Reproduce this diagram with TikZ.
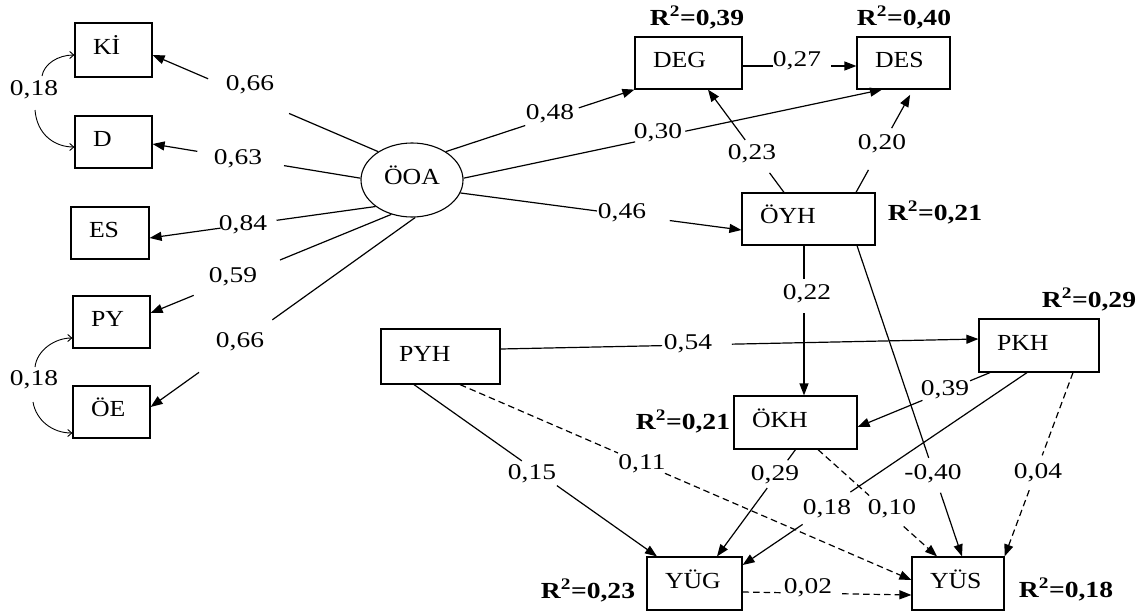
\documentclass[tikz,border=0pt]{standalone}
\usepackage{fontspec}
\setmainfont{Liberation Serif}
\newfontfamily\numfont{Liberation Serif}[FakeStretch=1.22]
\newfontfamily\boxfont{Liberation Serif}[FakeStretch=1.12]
\newfontfamily\rsqfont{Liberation Serif}[FakeStretch=1.2]
\usetikzlibrary{arrows.meta,shapes.geometric}

% split connector: #1 style, #2 from, #3 to, #4/#5 gap positions, #6 id
\newcommand\semedge[6]{%
  \path #2 -- #3 coordinate[pos=#4] (#6a) coordinate[pos=#5] (#6b);
  \draw[#1] #2 -- (#6a);
  \draw[#1,tip] (#6b) -- #3;
}
\newcommand\rsqtext[1]{R\textsuperscript{2}=#1}

\begin{document}
\begin{tikzpicture}[x=1pt,y=-1pt,
  bx/.style={draw, line width=1.2pt, rectangle, inner xsep=18pt, inner ysep=2pt,
    align=left, text height=16pt, text depth=7pt, font=\boxfont\fontsize{23}{27}\selectfont},
  lat/.style={draw, ellipse, line width=1.1pt, minimum width=102pt, minimum height=74pt,
    inner sep=0pt, text height=16pt, text depth=7pt, font=\boxfont\fontsize{23}{27}\selectfont},
  lbl/.style={inner sep=0pt, yshift=1.5pt, text height=15.5pt, text depth=0pt, font=\numfont\fontsize{22.5}{27}\selectfont},
  rsq/.style={inner sep=0pt, text height=15pt, text depth=0pt, font=\rsqfont\bfseries\fontsize{23}{27}\selectfont},
  conn/.style={line width=1.2pt},
  dconn/.style={line width=1.2pt, dash pattern=on 6.5pt off 4pt},
  tip/.style={-{Triangle[length=12pt,width=9pt]}},
  cov/.style={line width=0.9pt, -{Straight Barb[length=4pt,width=7pt]}},
  ]
\useasboundingbox (0,0) rectangle (1141,613);

% indicator boxes
\node[bx, minimum width=77pt, minimum height=54pt, text width=41pt] (ki) at (113.5,50) {Kİ};
\node[bx, minimum width=77pt, minimum height=52pt, text width=41pt] (d) at (113.5,142) {D};
\node[bx, minimum width=78pt, minimum height=52pt, text width=42pt] (es) at (110,233) {ES};
\node[bx, minimum width=77pt, minimum height=52pt, text width=41pt] (py) at (111.5,322) {PY};
\node[bx, minimum width=77pt, minimum height=52pt, text width=41pt] (oe) at (111.5,412) {ÖE};

% latent
\node[lat] (ooa) at (412,180) {ÖOA};

% structural boxes
\node[bx, minimum width=107pt, minimum height=52pt, text width=71pt] (deg) at (688.5,63) {DEG};
\node[bx, minimum width=93pt, minimum height=52pt, text width=57pt] (des) at (903.5,63) {DES};
\node[bx, minimum width=133pt, minimum height=52pt, text width=97pt] (oyh) at (808.5,219) {ÖYH};
\node[bx, minimum width=119pt, minimum height=55pt, text width=83pt] (pyh) at (440.5,356.5) {PYH};
\node[bx, minimum width=120pt, minimum height=53pt, text width=84pt] (pkh) at (1039,345.5) {PKH};
\node[bx, minimum width=123pt, minimum height=53pt, text width=87pt] (okh) at (795.5,422.5) {ÖKH};
\node[bx, minimum width=95pt, minimum height=53pt, text width=59pt] (yug) at (694.5,583.5) {YÜG};
\node[bx, minimum width=92pt, minimum height=53pt, text width=56pt] (yus) at (958,583.5) {YÜS};

% R squared
\node[rsq] (r1) at (697,18) {\rsqtext{0,39}};
\node[rsq] (r2) at (904,18) {\rsqtext{0,40}};
\node[rsq] (r3) at (935,213) {\rsqtext{0,21}};
\node[rsq] (r4) at (1089,300) {\rsqtext{0,29}};
\node[rsq] (r5) at (683,422) {\rsqtext{0,21}};
\node[rsq] (r6) at (588,591) {\rsqtext{0,23}};
\node[rsq] (r7) at (1066,590) {\rsqtext{0,18}};

% measurement paths
\semedge{conn}{(ooa.140)}{([yshift=-5pt]ki.east)}{0.395}{0.754}{m1}
\semedge{conn}{(ooa.178)}{([yshift=-2pt]d.east)}{0.368}{0.785}{m2}
\semedge{conn}{(ooa.216)}{([yshift=-5pt]es.east)}{0.438}{0.686}{m3}
\semedge{conn}{(ooa.239)}{([yshift=9pt]py.east)}{0.4625}{0.821}{m4}
\semedge{conn}{(ooa.275)}{([yshift=5pt]oe.east)}{0.54}{0.817}{m5}
\node[lbl] (lm1) at (250,84) {0,66};
\node[lbl] (lm2) at (238,158) {0,63};
\node[lbl] (lm3) at (243,224) {0,84};
\node[lbl] (lm4) at (233,276) {0,59};
\node[lbl] (lm5) at (240,341) {0,66};

% covariances
\coordinate (c1) at (42,76);
\coordinate (c2) at (35,110);
\coordinate (c3) at (35,367);
\coordinate (c4) at (33,402);
\draw[cov] (c1) .. controls (44,64) and (58,55) .. ([yshift=-5pt]ki.west);
\draw[cov] (c2) .. controls (37,135) and (55,147) .. ([yshift=-5pt]d.west);
\draw[cov] (c3) .. controls (37,350) and (55,338) .. ([yshift=-16pt]py.west);
\draw[cov] (c4) .. controls (36,420) and (52,433) .. ([yshift=-21pt]oe.west);
\node[lbl] (lc1) at (34,89) {0,18};
\node[lbl] (lc2) at (34,379) {0,18};

% structural paths
\semedge{conn}{(ooa.40)}{(deg.south west)}{0.421}{0.705}{s1}
\semedge{conn}{(ooa.2)}{([xshift=-21.5pt]des.south)}{0.41}{0.53}{s2}
\semedge{conn}{(ooa.-15)}{([yshift=-11pt]oyh.west)}{0.486}{0.745}{s3}
\semedge{conn}{([yshift=-3pt]deg.east)}{([yshift=-3pt]des.west)}{0.27}{0.78}{s4}
\semedge{conn}{([xshift=-24.5pt]oyh.north)}{([xshift=19.5pt]deg.south)}{0.19}{0.51}{s5}
\semedge{conn,shorten >=6pt}{([xshift=47.5pt]oyh.north)}{([xshift=9.5pt]des.south)}{0.27}{0.625}{s6}
\semedge{conn}{([xshift=-4.5pt]oyh.south)}{([xshift=8.5pt]okh.north)}{0.22}{0.45}{s7}
\semedge{conn}{([xshift=48.5pt]oyh.south)}{([xshift=4pt]yus.north)}{0.683}{0.795}{s8}
\semedge{conn}{([yshift=7.5pt]pyh.east)}{([yshift=6.5pt]pkh.west)}{0.338}{0.484}{s9}
\semedge{conn}{([xshift=-49pt]pkh.south)}{([yshift=-4.5pt]okh.east)}{0.15}{0.51}{s10}
\semedge{conn}{([xshift=-12pt]pkh.south)}{([yshift=18.5pt]yug.east)}{0.621}{0.789}{s11}
\semedge{dconn}{([xshift=34pt]pkh.south)}{(yus.north east)}{0.45}{0.64}{s12}
\semedge{conn}{(okh.south)}{([xshift=22.5pt]yug.north)}{0.1}{0.36}{s13}
\semedge{dconn}{([xshift=22.5pt]okh.south)}{([xshift=-21pt]yus.north)}{0.43}{0.72}{s14}
\semedge{conn}{([xshift=-26.5pt]pyh.south)}{([xshift=-37.5pt]yug.north)}{0.444}{0.588}{s15}
\semedge{dconn}{([xshift=19.5pt]pyh.south)}{([yshift=3.5pt]yus.west)}{0.35}{0.454}{s16}
\semedge{dconn}{([yshift=-8.5pt]yug.east)}{([yshift=-11.5pt]yus.west)}{0.24}{0.59}{s17}

\node[lbl] (ls1) at (550,113) {0,48};
\node[lbl] (ls2) at (658,132) {0,30};
\node[lbl] (ls3) at (622,212) {0,46};
\node[lbl] (ls4) at (797,60) {0,27};
\node[lbl] (ls5) at (752,153) {0,23};
\node[lbl] (ls6) at (882,143) {0,20};
\node[lbl] (ls7) at (807,293) {0,22};
\node[lbl] (ls8) at (933,473) {-0,40};
\node[lbl] (ls9) at (688,343) {0,54};
\node[lbl] (ls10) at (945,389) {0,39};
\node[lbl] (ls11) at (827,508) {0,18};
\node[lbl] (ls12) at (1038,472) {0,04};
\node[lbl] (ls13) at (775,474) {0,29};
\node[lbl] (ls14) at (892,508) {0,10};
\node[lbl] (ls15) at (532,473) {0,15};
\node[lbl] (ls16) at (642,463) {0,11};
\node[lbl] (ls17) at (808,587) {0,02};
\end{tikzpicture}
\end{document}
